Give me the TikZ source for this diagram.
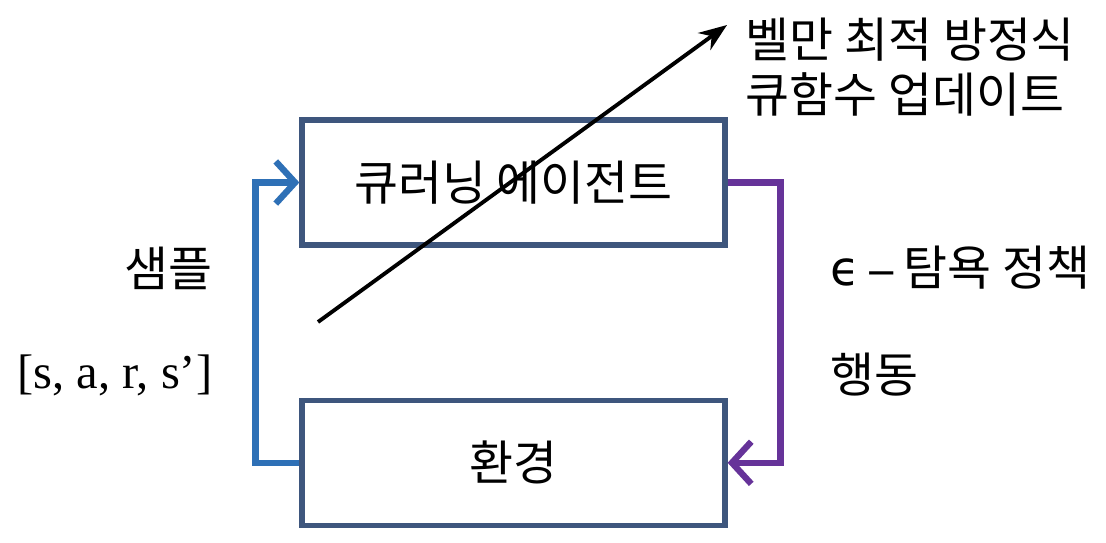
\documentclass[tikz,border=0pt]{standalone}
\usepackage{fontspec}
\newfontfamily\kofont{Noto Sans CJK KR}
\newfontfamily\serfont{Liberation Serif}
\newfontfamily\symfont{DejaVu Sans}
\definecolor{boxblue}{RGB}{62,86,125}
\definecolor{loopblue}{RGB}{46,112,182}
\definecolor{looppurple}{RGB}{102,51,153}
\usetikzlibrary{positioning,arrows.meta,calc}

\begin{document}
\begin{tikzpicture}[every node/.style={font=\kofont\fontsize{13.6}{15.6}\selectfont},
    lbl/.style={inner sep=0pt}]
      \useasboundingbox (0,0) rectangle (11.06,-5.42);
      \node[draw=boxblue,line width=1.5pt,minimum width=4.23cm,minimum height=1.25cm] (agent) at (5.135,-1.825)
        {큐러닝 에이전트};
      \node[draw=boxblue,line width=1.5pt,minimum width=4.23cm,minimum height=1.25cm,below=1.5cm of agent] (env)
        {환경};
      \draw[-{Straight Barb[length=5.5pt,width=12pt]},line width=1.8pt,loopblue] (env.west) -- ++(-0.44,0) |- (agent.west);
      \draw[-{Straight Barb[length=5.5pt,width=12pt]},line width=1.8pt,looppurple] (agent.east) -- ++(0.53,0) |- (env.east);
      \node[lbl,anchor=east] (sample) at (2.13,-2.68) {샘플};
      \node[lbl,anchor=east,font=\serfont\fontsize{13.8}{15}\selectfont] (tuple) at (2.13,-3.75) {[s, a, r, s’]};
      \node[lbl,anchor=west] (policy) at (8.3,-2.68) {{\symfont ϵ\hspace{0.12em}{\fontsize{11}{13}\selectfont −}\hspace{0.12em}}탐욕 정책};
      \node[lbl,anchor=west] (action) at (8.3,-3.75) {행동};
      \node[lbl,anchor=west,align=left] (bellman) at (7.45,-0.675) {벨만 최적 방정식\\큐함수 업데이트};
      \coordinate (tail) at (3.18,-3.22);
      \coordinate (tip) at (7.27,-0.25);
      \draw[-{Stealth[length=8pt,width=6pt]},line width=1.1pt] (tail) -- (tip);
    \end{tikzpicture}
\end{document}
